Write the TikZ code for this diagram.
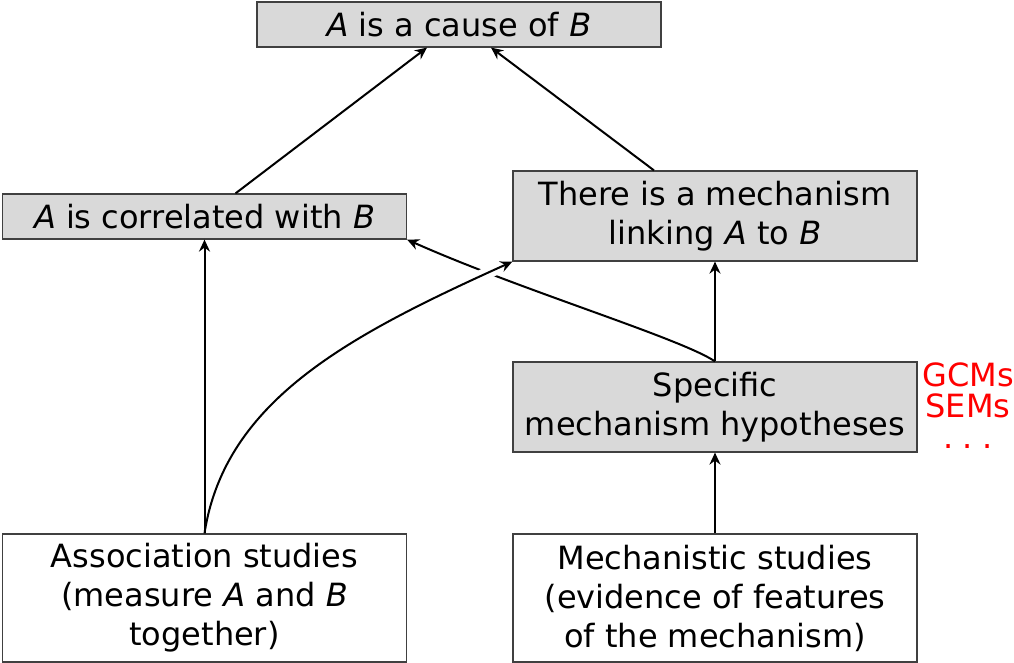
\documentclass[tikz,border=0pt]{standalone}
\usepackage{fontspec}
\setmainfont{DejaVu Sans}
\usetikzlibrary{arrows.meta}
\begin{document}
\begin{tikzpicture}[x=0.5pt,y=-0.5pt,
  box/.style={draw=black!75, line width=0.6pt, inner sep=0pt, align=center,
    font=\fontsize{16}{19.5}\selectfont, minimum width=202pt},
  claim/.style={box, fill=black!15},
  study/.style={box, fill=white},
  link/.style={-{Stealth[length=6pt,width=5.5pt,inset=2pt]}, line width=1pt},
  note/.style={text=red, align=center, inner sep=0pt,
    font=\fontsize{16}{15.5}\selectfont}]
\useasboundingbox (0,0) rectangle (1014,663);

% claims
\node[claim, minimum height=22.5pt] (top)  at (459,24.5)  {\textit{A} is a cause of \textit{B}};
\node[claim, minimum height=22.5pt] (corr) at (204.5,216.5) {\textit{A} is correlated with \textit{B}};
\node[claim, minimum height=45pt]   (mech) at (715,216)   {There is a mechanism\\linking \textit{A} to \textit{B}};
\node[claim, minimum height=45pt]   (spec) at (715,407)   {Specific\\mechanism hypotheses};

% studies
\node[study, minimum height=64pt] (assoc) at (204.5,598) {Association studies\\(measure \textit{A} and \textit{B}\\together)};
\node[study, minimum height=64pt] (mstud) at (715,598)   {Mechanistic studies\\(evidence of features\\of the mechanism)};

% modelling frameworks
\node[note] (models) at (968,406) {GCMs\\SEMs\\.\hspace{4.5pt}.\hspace{4.5pt}.};

% support links
\draw[link] ([xshift=15.5pt]corr.north) -- ([xshift=-16pt]top.south);
\draw[link] ([xshift=-30.5pt]mech.north) -- ([xshift=16pt]top.south);
\draw[link] (assoc.north) -- (corr.south);
\draw[link] (spec.north) .. controls (680,338) and (520,290) .. (corr.south east);
\draw[link, preaction={draw, white, line width=6pt, -, shorten <=60pt, shorten >=6pt}]
  (assoc.north) .. controls (225,400) and (350,335) .. (mech.south west);
\draw[link] (spec.north) -- (mech.south);
\draw[link] (mstud.north) -- (spec.south);
\end{tikzpicture}
\end{document}
